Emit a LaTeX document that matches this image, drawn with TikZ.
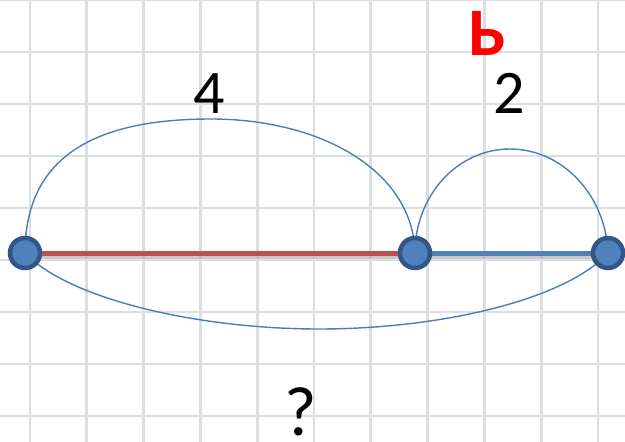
\documentclass[tikz,border=0pt]{standalone}
\usepackage{fontspec}
\setmainfont{Carlito}
\definecolor{gridc}{RGB}{218,223,227}
\definecolor{arcblue}{RGB}{74,126,187}
\definecolor{nodefill}{RGB}{79,129,189}
\definecolor{nodeborder}{RGB}{50,86,134}
\definecolor{segred}{RGB}{192,80,77}
\definecolor{segblue}{RGB}{79,129,189}
\tikzset{
  gridline/.style={draw=gridc, line width=2.8pt},
  shadowseg/.style={draw=black!35, line width=5pt, opacity=0.6},
  redseg/.style={draw=segred, line width=5pt},
  blueseg/.style={draw=segblue, line width=5pt},
  arcline/.style={draw=arcblue, line width=1.4pt},
  dot/.style={circle, fill=nodefill, draw=nodeborder, line width=4.5pt, minimum size=30pt, inner sep=0pt},
  lab/.style={font=\fontsize{62}{62}\selectfont, anchor=base, inner sep=0pt},
}
\begin{document}
\begin{tikzpicture}[x=1pt,y=-1pt]
\useasboundingbox (0,0) rectangle (625,442);
\fill[white] (0,0) rectangle (625,442);
\foreach \k in {0,...,10} { \draw[gridline] ({30+56.8*\k},0) -- ({30+56.8*\k},442); }
\foreach \k in {0,...,8} { \draw[gridline] (0,{52*\k}) -- (625,{52*\k}); }
\coordinate (Apos) at (25,253);
\coordinate (Bpos) at (415,253);
\coordinate (Cpos) at (608,253);
\draw[shadowseg] ([yshift=-3pt]Apos) -- ([yshift=-3pt]Cpos);
\draw[redseg] (Apos) -- (Bpos);
\draw[blueseg] (Bpos) -- (Cpos);
\draw[arcline] (Apos) .. controls (25,150) and (105,119) .. (211,119) .. controls (320,119) and (413,170) .. (Bpos);
\draw[arcline] (Bpos) .. controls (415,196) and (457,149) .. (510,149) .. controls (563,149) and (606,196) .. (Cpos);
\draw[arcline] (Apos) .. controls (70,300) and (200,329) .. (319,329) .. controls (440,329) and (565,300) .. (Cpos);
\node[dot] (A) at (Apos) {};
\node[dot] (B) at (Bpos) {};
\node[dot] (C) at (Cpos) {};
\node[lab] (four) at (209,113) {4};
\node[lab] (two) at (509,113) {2};
\node[lab, font=\fontsize{70}{70}\selectfont] (q) at (301,435) {?};
\node[lab, font=\fontsize{68}{68}\selectfont\bfseries, text=red] (soft) at (487,55) {Ь};
\end{tikzpicture}
\end{document}
